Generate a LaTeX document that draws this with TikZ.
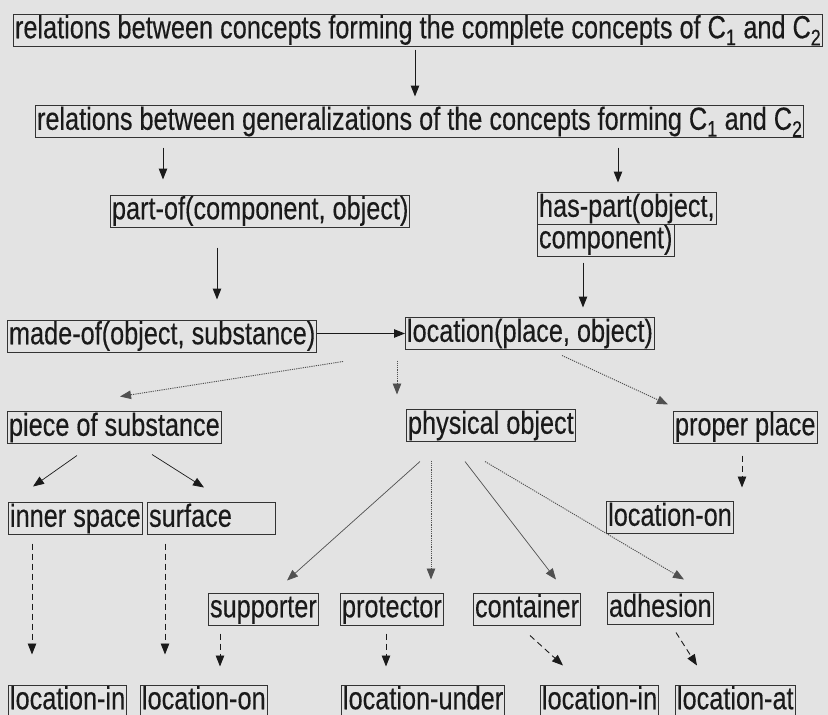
\documentclass[tikz,border=0pt]{standalone}
\usepackage{fontspec}
\setmainfont{Liberation Sans}[FakeStretch=0.79, FakeBold=0.3]
\usetikzlibrary{arrows.meta,calc}
\definecolor{bg}{HTML}{E3E3E3}
\definecolor{ink}{HTML}{1A1A1A}
\definecolor{frame}{HTML}{333333}
\definecolor{dots}{HTML}{505050}
\begin{document}
\begin{tikzpicture}[x=1pt,y=-1pt,
  box/.style={draw=frame, line width=1pt, anchor=west, inner xsep=1.5pt, inner ysep=0.5pt,
    minimum height=32pt, font=\fontsize{32}{34}\selectfont, text=ink, text height=23pt, text depth=6.5pt},
  arr/.style={-{Triangle[length=11pt,width=8.5pt]}, draw=ink, line width=1pt},
  thinarr/.style={arr, line width=0.7pt},
  dotarr/.style={arr, draw=dots, line width=0.9pt, dash pattern=on 1.2pt off 1pt},
  dasharr/.style={arr, line width=0.9pt, dash pattern=on 6pt off 4pt}]
\fill[bg] (0,0) rectangle (828,715);
\useasboundingbox (0,0) rectangle (828,715);

\node[box] (top) at (13,30) {relations between concepts forming the complete concepts of C\textsubscript{1} and C\textsubscript{2}};
\node[box] (gen) at (35,121.5) {relations between generalizations of the concepts forming C\textsubscript{1} and C\textsubscript{2}};
\node[box] (partof) at (110,211) {part-of(component, object)};
\node[box] (haspart) at (537,208.5) {has-part(object,};
\node[box] (haspartb) at (537,240) {component)};
\node[box] (madeof) at (7,336) {made-of(object, substance)};
\node[box] (location) at (405,333.5) {location(place, object)};
\node[box] (piece) at (7,427.5) {piece of substance};
\node[box] (physobj) at (406,425.5) {physical object};
\node[box] (proper) at (673,427) {proper place};
\node[box] (inner) at (8,518.5) {inner space};
\node[box, text width=125pt, align=left] (surface) at (147,518.5) {surface};
\node[box, minimum width=127pt] (locona) at (606,517.5) {location-on};
\node[box] (supporter) at (208,609) {supporter};
\node[box] (protector) at (340,609) {protector};
\node[box] (container) at (473,609) {container};
\node[box] (adhesion) at (607,608.5) {adhesion};
\node[box] (locina) at (8,701) {location-in};
\node[box] (loconb) at (140,701) {location-on};
\node[box] (locunder) at (341,701) {location-under};
\node[box] (locinb) at (540,701) {location-in};
\node[box] (locat) at (675,701) {location-at};

% solid arrows
\draw[arr, shorten <=3pt, shorten >=8.5pt] (top.south -| 415,0) -- (gen.north -| 415,0);
\draw[arr, shorten <=9.5pt, shorten >=15pt] (gen.south -| 163,0) -- (partof.north -| 163,0);
\draw[arr, shorten <=9.5pt, shorten >=9.5pt] (gen.south -| 618,0) -- (haspart.north -| 618,0);
\draw[arr, shorten <=20pt, shorten >=20pt] (partof.south -| 217,0) -- (madeof.north -| 217,0);
\draw[arr, shorten <=6pt, shorten >=9.5pt] (haspartb.south -| 583,0) -- (location.north -| 583,0);
\draw[arr] (location.west -| madeof.east) -- (location.west);

% dotted arrows from location
\draw[dotarr] ($(location.south west)+(-62,11.5)$) -- ($(piece.north west)+(113,-14.5)$);
\draw[dotarr, shorten <=10.5pt, shorten >=14.5pt] (location.south -| 397,0) -- (physobj.north -| 397,0);
\draw[dotarr] ($(location.south west)+(157,5.5)$) -- ($(proper.north west)+(-5,-6)$);

% from piece of substance and proper place
\draw[thinarr] ($(piece.south west)+(70,11.5)$) -- ($(inner.north west)+(25,-15.5)$);
\draw[thinarr] ($(piece.south west)+(145,10.5)$) -- ($(surface.north west)+(57,-14.5)$);
\draw[dasharr, shorten <=12pt, shorten >=13.5pt] (proper.south -| 742,0) -- (locona.north -| 742,0);

% from physical object
\draw[thinarr, draw=dots] ($(physobj.south west)+(14,19.5)$) -- ($(supporter.north west)+(79,-12)$);
\draw[dotarr, shorten <=18.5pt, shorten >=13pt] (physobj.south -| 431,0) -- (protector.north -| 431,0);
\draw[thinarr, draw=dots] ($(physobj.south west)+(59,19.5)$) -- ($(container.north west)+(83,-13)$);
\draw[dotarr] ($(physobj.south west)+(79,19.5)$) -- ($(adhesion.north west)+(77,-12.5)$);

% dashed arrows to the bottom row
\draw[dasharr, shorten <=8.5pt, shorten >=30pt] (inner.south -| 32,0) -- (locina.north -| 32,0);
\draw[dasharr, shorten <=8.5pt, shorten >=30pt] (surface.south -| 165,0) -- (loconb.north -| 165,0);
\draw[dasharr, shorten <=8pt, shorten >=18pt] (supporter.south -| 220,0) -- (loconb.north -| 220,0);
\draw[dasharr, shorten <=8pt, shorten >=18pt] (protector.south -| 386,0) -- (locunder.north -| 386,0);
\draw[dasharr] ($(container.south west)+(57,10)$) -- ($(locinb.north west)+(23,-19)$);
\draw[dasharr] ($(adhesion.south west)+(69,7.5)$) -- ($(locat.north west)+(22,-19)$);
\end{tikzpicture}
\end{document}
